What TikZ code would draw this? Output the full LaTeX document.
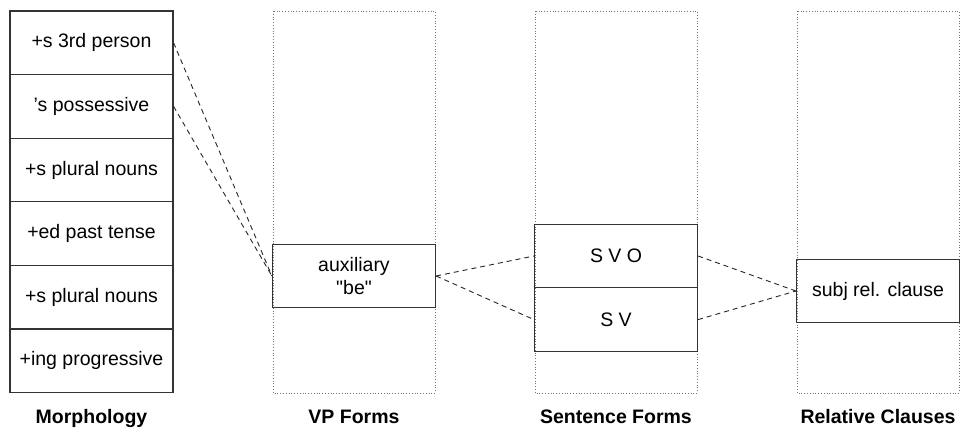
\documentclass[tikz,border=0pt]{standalone}
\usepackage{fontspec}
\setmainfont{Liberation Sans}[Ligatures=TeXOff]
\usetikzlibrary{positioning}

\begin{document}
\begin{tikzpicture}[x=1pt, y=-1pt,
    cell/.style={draw=black!80, line width=1.2pt, minimum width=163pt, minimum height=63.6pt,
        inner sep=0pt, align=center, font=\fontsize{19.5}{23}\selectfont},
    lane/.style={draw=black!55, dotted, line width=0.8pt},
    link/.style={draw=black!85, dash pattern=on 5pt off 4pt, line width=0.9pt},
    title/.style={anchor=base, font=\fontsize{19.5}{23}\selectfont\bfseries}]
    \useasboundingbox (0,0) rectangle (960,430);
    % dotted lanes
    \foreach \x in {273,535,797} {
        \draw[lane] (\x, 11) rectangle (\x+162, 393);
    }
    % morphology
    \foreach \t [count=\i] in {+s 3rd person, ’s possessive, +s plural nouns, +ed past tense, +s plural nouns, +ing progressive} {
        \node[cell] (m\i) at (91.5, {11+63.6*(\i-0.5)}) {\t};
    }
    \node[cell] (aux) at (354, 276) {auxiliary\\"be"};
    \node[cell] (svo) at (616, 256) {S V O};
    \node[cell, below=-1.2pt of svo] (sv) {S V};
    \node[cell] (subj) at (878, 291) {subj rel. clause};
    \draw[link]
    (m1.east) edge (aux.west)
    (m2.east) edge (aux.west)
    (aux.east) edge (svo.west)
    (aux.east) edge (sv.west)
    (svo.east) edge (subj.west)
    (sv.east) edge (subj.west);
    \node[title] (tmorph) at (91.5, 423) {Morphology};
    \node[title] (tvp) at (354, 423) {VP Forms};
    \node[title] (tsent) at (616, 423) {Sentence Forms};
    \node[title] (trel) at (878, 423) {Relative Clauses};
\end{tikzpicture}
\end{document}
